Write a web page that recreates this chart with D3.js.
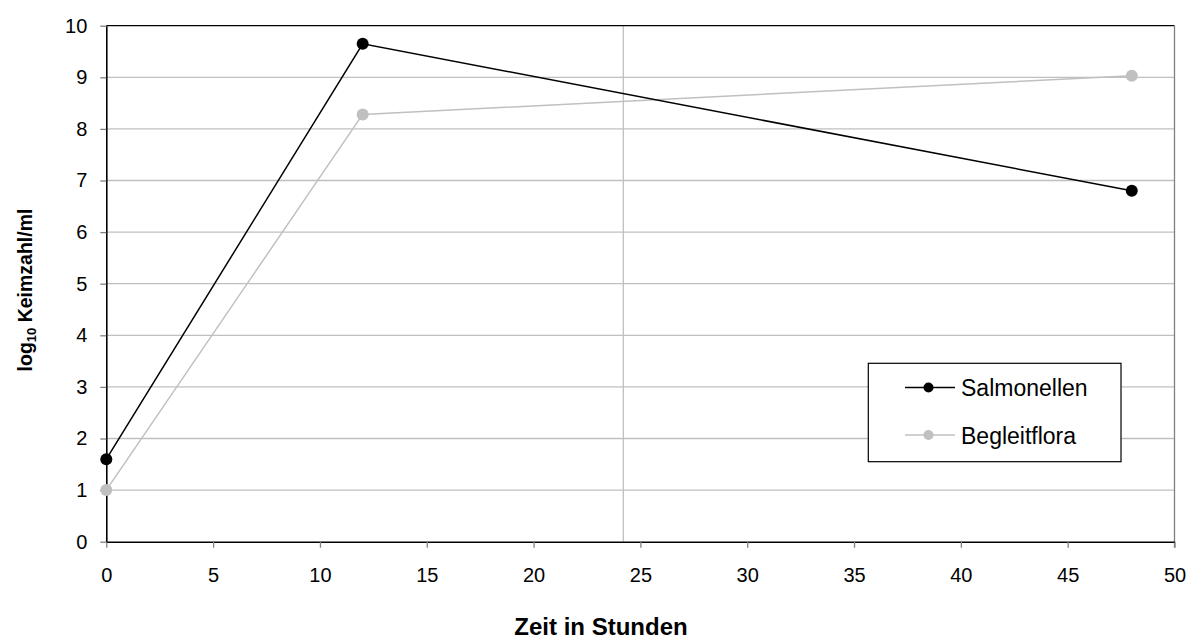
<!DOCTYPE html>
<html><head><meta charset="utf-8">
<script src="https://cdn.jsdelivr.net/npm/d3@7"></script>
<style>body{margin:0;background:#fff;} text{font-family:"Liberation Sans",Arial,sans-serif;}</style>
</head><body>
<svg id="c" width="1190" height="639"></svg>
<script>
const hours = [0, 12, 48];
const salmonellen = [1.6, 9.65, 6.8];
const begleitflora = [1.0, 8.28, 9.03];
const xTicks = [0,5,10,15,20,25,30,35,40,45,50];
const yTicks = [0,1,2,3,4,5,6,7,8,9,10];
const refLineX = 24.2;
const seriesNames = ["Salmonellen", "Begleitflora"];
const seriesColors = ["#000000", "#c0c0c0"];

const FF = "Liberation Sans, Arial, sans-serif";
const svg = d3.select("#c");
const L = 106.3, R = 1174.5, T = 25.7, B = 541.7;
const x = d3.scaleLinear().domain([0,50]).range([L,R]);
const y = d3.scaleLinear().domain([0,10]).range([B,T]);

// gridlines
svg.append("g").selectAll("line").data(yTicks.filter(d=>d>0&&d<10)).join("line")
  .attr("x1",L).attr("x2",R).attr("y1",d=>y(d)).attr("y2",d=>y(d))
  .attr("stroke","#c0c0c0").attr("stroke-width",1.3);
svg.append("line").attr("x1",x(refLineX)).attr("x2",x(refLineX)).attr("y1",T).attr("y2",B)
  .attr("stroke","#c0c0c0").attr("stroke-width",1.3);

// frame
svg.append("line").attr("x1",L).attr("x2",R).attr("y1",T).attr("y2",T).attr("stroke","#000").attr("stroke-width",1.3);
svg.append("line").attr("x1",R).attr("x2",R).attr("y1",T).attr("y2",B+6).attr("stroke","#808080").attr("stroke-width",1.3);

// axes
const xAxis = d3.axisBottom(x).tickValues(xTicks).tickSize(6).tickPadding(20).tickSizeOuter(0);
const gx = svg.append("g").attr("transform",`translate(0,${B})`).call(xAxis);
gx.select(".domain").attr("stroke","#000").attr("stroke-width",1.6);
gx.selectAll(".tick line").attr("stroke","#808080").attr("stroke-width",1.3);
gx.selectAll("text").attr("font-size",20).attr("fill","#000").style("font-family",FF);

const yAxis = d3.axisLeft(y).tickValues(yTicks).tickSize(6).tickPadding(13).tickSizeOuter(0);
const gy = svg.append("g").attr("transform",`translate(${L},0)`).call(yAxis);
gy.select(".domain").attr("stroke","#000").attr("stroke-width",1.6);
gy.selectAll(".tick line").attr("stroke","#808080").attr("stroke-width",1.3);
gy.selectAll("text").attr("font-size",20).attr("fill","#000").style("font-family",FF);

// series
const data = [salmonellen, begleitflora];
[1,0].forEach(i=>{
  const pts = hours.map((h,j)=>[h,data[i][j]]);
  svg.append("path").datum(pts)
    .attr("d", d3.line().x(d=>x(d[0])).y(d=>y(d[1])))
    .attr("fill","none").attr("stroke",seriesColors[i]).attr("stroke-width",1.5);
  svg.append("g").selectAll("circle").data(pts).join("circle")
    .attr("cx",d=>x(d[0])).attr("cy",d=>y(d[1])).attr("r",6).attr("fill",seriesColors[i]);
});

// axis titles
svg.append("text").attr("x",601).attr("y",635).attr("text-anchor","middle")
  .attr("font-size",24).attr("font-weight","bold").text("Zeit in Stunden");
const yt = svg.append("text").attr("transform",`translate(32,290) rotate(-90)`)
  .attr("text-anchor","middle").attr("font-size",19.5).attr("font-weight","bold");
yt.append("tspan").text("log");
yt.append("tspan").attr("font-size",13).attr("dy",4).text("10");
yt.append("tspan").attr("dy",-4).text(" Keimzahl/ml");

// legend
const lg = svg.append("g");
lg.append("rect").attr("x",868.3).attr("y",363.3).attr("width",252.7).attr("height",98.4)
  .attr("fill","#fff").attr("stroke","#000").attr("stroke-width",1.2);
seriesNames.forEach((n,i)=>{
  const cy = 387.5 + i*47.5;
  lg.append("line").attr("x1",905).attr("x2",955).attr("y1",cy).attr("y2",cy)
    .attr("stroke",seriesColors[i]).attr("stroke-width",1.5);
  lg.append("circle").attr("cx",928.5).attr("cy",cy).attr("r",5).attr("fill",seriesColors[i]);
  lg.append("text").attr("x",961).attr("y",cy+8.5).attr("font-size",23).style("font-family",FF).text(n);
});
</script>
</body></html>
